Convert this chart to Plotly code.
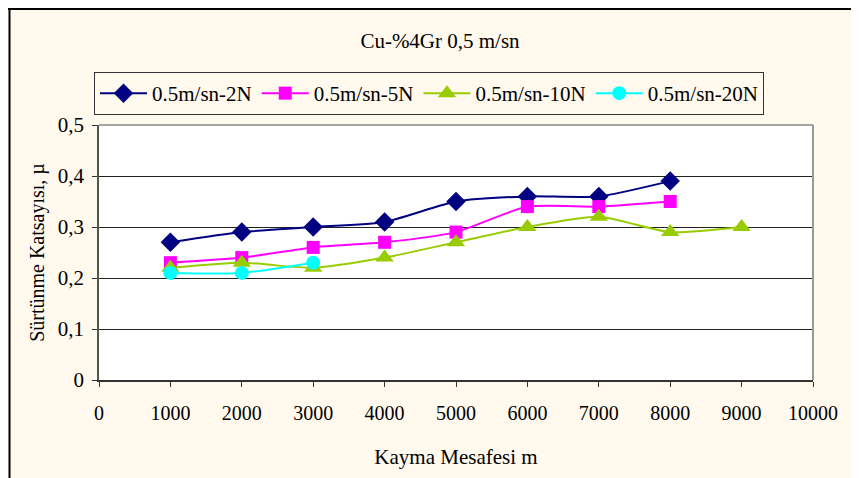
import plotly.graph_objects as go

distance = [1000, 2000, 3000, 4000, 5000, 6000, 7000, 8000, 9000]
mu_2n = [0.27, 0.29, 0.30, 0.31, 0.35, 0.36, 0.36, 0.39]
mu_5n = [0.23, 0.24, 0.26, 0.27, 0.29, 0.34, 0.34, 0.35]
mu_10n = [0.22, 0.23, 0.22, 0.24, 0.27, 0.30, 0.32, 0.29, 0.30]
mu_20n = [0.21, 0.21, 0.23]

names = ["0.5m/sn-2N", "0.5m/sn-5N", "0.5m/sn-10N", "0.5m/sn-20N"]
y_ticks = [0, 0.1, 0.2, 0.3, 0.4, 0.5]
y_tick_text = ["0", "0,1", "0,2", "0,3", "0,4", "0,5"]
x_ticks = [0, 1000, 2000, 3000, 4000, 5000, 6000, 7000, 8000, 9000, 10000]

FONT = "Liberation Serif, Times New Roman, serif"
CREAM = "#FFF9EE"
FS = 20

series = [
    (mu_2n, "#000080", "diamond", 15),
    (mu_5n, "#FF00FF", "square", 13),
    (mu_10n, "#99CC00", "triangle-up", 16),
    (mu_20n, "#00FFFF", "circle", 14),
]

fig = go.Figure()
for name, (vals, color, sym, size) in zip(names, series):
    fig.add_trace(go.Scatter(
        x=distance[:len(vals)], y=vals, name=name,
        mode="lines+markers",
        line=dict(color=color, width=2, shape="spline", smoothing=0.6),
        marker=dict(symbol=sym, size=size, color=color, line=dict(width=0)),
    ))

# page has an 8px body margin, figure therefore is 851x470
W, H = 851, 470
L, T, R, B = 91, 117, 46, 98
PW, PH = W - L - R, H - T - B

fig.update_layout(
    width=W, height=H,
    margin=dict(l=L, r=R, t=T, b=B),
    paper_bgcolor=CREAM, plot_bgcolor="white",
    font=dict(family=FONT, size=FS, color="black"),
    title=dict(text="Cu-%4Gr 0,5 m/sn", x=432 / W, xanchor="center",
               y=1 - 33 / H, yanchor="middle",
               font=dict(family=FONT, size=21, color="black")),
    showlegend=True,
    legend=dict(orientation="h", x=(86 - L) / PW, xanchor="left",
                y=(PH + T - 64) / PH, yanchor="top",
                bgcolor=CREAM, bordercolor="#333333", borderwidth=1,
                font=dict(family=FONT, size=21, color="black"),
                itemwidth=47, tracegroupgap=0),
    xaxis=dict(range=[0, 10000], tickvals=x_ticks, ticktext=[str(v) for v in x_ticks],
               showgrid=False, zeroline=False, showline=True, linecolor="#333333",
               linewidth=1.5, ticks="outside", ticklen=5, tickcolor="#333333",
               ticklabelstandoff=9, tickfont=dict(family=FONT, size=FS),
               title=dict(text="Kayma Mesafesi m", standoff=27,
                          font=dict(family=FONT, size=21))),
    yaxis=dict(range=[0, 0.5], tickvals=y_ticks, ticktext=y_tick_text,
               showgrid=True, gridcolor="#222222", gridwidth=1, zeroline=False,
               showline=True, linecolor="#555555", linewidth=1.5,
               ticks="outside", ticklen=5, tickcolor="#333333",
               ticklabelstandoff=4, tickfont=dict(family=FONT, size=FS + 1),
               title=dict(text="Sürtünme Katsayısı, µ", standoff=8,
                          font=dict(family=FONT, size=FS))),
)

# plot area right / top border (grey)
fig.add_shape(type="line", xref="paper", yref="paper", x0=1, x1=1, y0=0, y1=1,
              line=dict(color="#999999", width=2))
fig.add_shape(type="line", xref="paper", yref="paper", x0=0, x1=1, y0=1, y1=1,
              line=dict(color="#888888", width=1.5))
# outer chart frame: left and top edges (right/bottom are cropped away)
fig.add_shape(type="line", xref="paper", yref="paper",
              x0=(1.5 - L) / PW, x1=(1.5 - L) / PW, y0=-B / PH, y1=(PH + T) / PH,
              line=dict(color="black", width=2))
fig.add_shape(type="line", xref="paper", yref="paper",
              x0=-L / PW, x1=(PW + R) / PW, y0=(PH + T - 1) / PH, y1=(PH + T - 1) / PH,
              line=dict(color="black", width=2))

fig.write_html("out.html")
